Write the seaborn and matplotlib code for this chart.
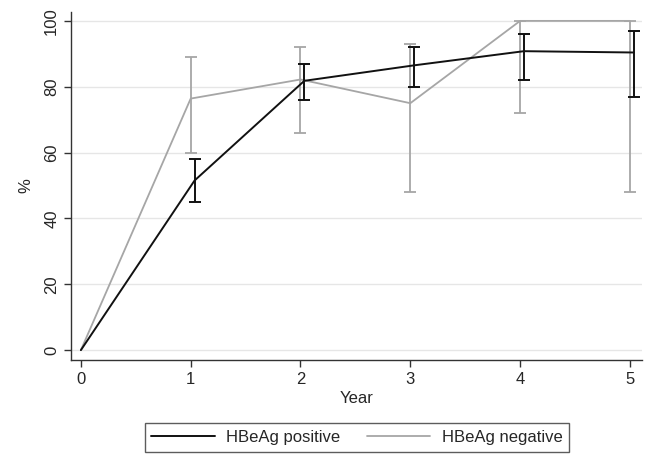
import numpy as np
import pandas as pd
import matplotlib
matplotlib.use("Agg")
import matplotlib.pyplot as plt
import seaborn as sns

# data
years = [0, 1, 2, 3, 4, 5]
pos_pct = [0, 51.5, 81.8, 86.5, 90.8, 90.4]
pos_lo = [np.nan, 45, 76, 80, 82, 77]
pos_hi = [np.nan, 58, 87, 92, 96, 97]
neg_pct = [0, 76.4, 82.2, 75, 100, 100]
neg_lo = [np.nan, 60, 66, 48, 72, 48]
neg_hi = [np.nan, 89, 92, 93, 100, 100]

sns.set_style("white")
plt.rcParams['font.family'] = ['Liberation Sans', 'DejaVu Sans']

df = pd.DataFrame({
    "Year": years * 2,
    "pct": pos_pct + neg_pct,
    "lo": pos_lo + neg_lo,
    "hi": pos_hi + neg_hi,
    "group": ["HBeAg positive"] * 6 + ["HBeAg negative"] * 6,
})
colors = {"HBeAg positive": "#111111", "HBeAg negative": "#a6a6a6"}
shift = {"HBeAg positive": 0.035, "HBeAg negative": 0.0}

fig = plt.figure(figsize=(6.45, 4.55), dpi=100)
ax = fig.add_axes([71 / 645, 1 - 360 / 455, 571 / 645, 348 / 455])

for g in ["HBeAg negative", "HBeAg positive"]:
    d = df[df.group == g].copy()
    d["x"] = d["Year"] + np.where(d["Year"] > 0, shift[g], 0)
    lw = 1.4 if g == "HBeAg positive" else 1.3
    sns.lineplot(data=d, x="x", y="pct", color=colors[g], lw=lw, ax=ax, label=g, zorder=3)
    m = d["lo"].notna()
    ax.errorbar(d.loc[m, "x"], d.loc[m, "pct"],
                yerr=[d.loc[m, "pct"] - d.loc[m, "lo"], d.loc[m, "hi"] - d.loc[m, "pct"]],
                fmt="none", ecolor=colors[g], elinewidth=lw, capsize=4, capthick=lw, zorder=3)

ax.set_xlim(-0.09, 5.11)
ax.set_ylim(-3, 102.7)
ax.set_xticks(years)
ax.set_yticks([0, 20, 40, 60, 80, 100])
ax.yaxis.grid(True, color="#e6e6e6", lw=1)
ax.set_axisbelow(True)
for s in ["top", "right"]:
    ax.spines[s].set_visible(False)
for s in ["left", "bottom"]:
    ax.spines[s].set_color("#333333")
    ax.spines[s].set_linewidth(1)
ax.tick_params(axis="both", direction="out", length=5, width=1, color="#333333",
               labelsize=12, left=True, bottom=True)
plt.setp(ax.get_yticklabels(), rotation=90, va="center")
ax.set_xlabel("Year", fontsize=12, labelpad=3)
ax.set_ylabel("%", fontsize=12, labelpad=8)

h, l = ax.get_legend_handles_labels()
order = [l.index("HBeAg positive"), l.index("HBeAg negative")]
leg = ax.legend([h[i] for i in order], [l[i] for i in order], loc="center",
                bbox_to_anchor=(357 / 645, 1 - 437.5 / 455), bbox_transform=fig.transFigure,
                ncol=2, frameon=True, fancybox=False, fontsize=12, handlelength=3.8,
                handletextpad=0.7, columnspacing=1.6, borderpad=0.4, edgecolor="#333333")
leg.get_frame().set_linewidth(1)

fig.savefig("out.png", dpi=100)
